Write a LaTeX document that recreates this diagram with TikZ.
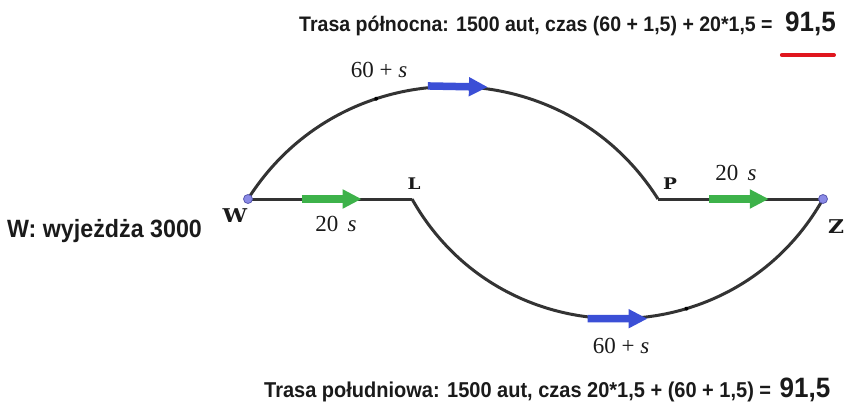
\documentclass[tikz,border=0pt]{standalone}
\usepackage{fontspec}
\usetikzlibrary{arrows.meta,positioning,calc,decorations.markings}
\newfontfamily\capsans[FakeStretch=0.93]{Liberation Sans}
\newfontfamily\numserif{Liberation Serif}
\newfontfamily\ptfont[FakeStretch=1.15]{DejaVu Serif}
\definecolor{roadc}{HTML}{333333}
\definecolor{arrblue}{HTML}{3B4FD6}
\definecolor{arrgrn}{HTML}{3DB24A}
\definecolor{ptfill}{HTML}{8A8AE6}
\definecolor{ptdraw}{HTML}{5A5AB0}
\definecolor{redmark}{HTML}{E0161E}
\definecolor{inkc}{HTML}{1A1A1A}
\tikzset{
  road/.style={draw=roadc, line width=3pt},
  fat/.style={line width=7.5pt, -{Triangle[length=19pt,width=18pt]}},
  flow/.style 2 args={postaction={decorate, decoration={markings,
      mark=at position #1 with {\draw[fat, draw=#2, fill=#2] (-30pt,0) -- (30pt,0);}}}},
  dotmark/.style={postaction={decorate, decoration={markings,
      mark=at position #1 with {\fill[black] (0,0) circle (2pt);}}}},
  ptlbl/.style={font=\ptfont\bfseries\fontsize{19}{19}\selectfont, inner sep=0pt, text=inkc},
  ptsmall/.style={ptlbl, font=\ptfont\bfseries\fontsize{16}{16}\selectfont},
  cost/.style={font=\numserif\fontsize{23}{23}\selectfont, inner sep=0pt, text=inkc},
  note/.style={font=\capsans\bfseries\fontsize{21}{21}\selectfont, inner sep=0pt, anchor=base west, text=inkc},
  total/.style={font=\capsans\bfseries\fontsize{28}{28}\selectfont, inner sep=0pt, text=inkc},
}
\begin{document}
\begin{tikzpicture}[x=1pt,y=1pt]
  \useasboundingbox (0,0) rectangle (849,-407);
  % junctions
  \coordinate (W) at (248,-199);
  \coordinate (L) at (412,-199);
  \coordinate (P) at (658,-199);
  \coordinate (Z) at (823,-199);

  % routes
  \draw[road, flow={0.51}{arrgrn}] (W) -- (L);
  \draw[road, flow={0.49}{arrgrn}] (P) -- (Z);
  \draw[road, flow={0.51}{arrblue}, dotmark=0.34] (W) to[out=57.7,in=122.3,looseness=1.11] (P);
  \draw[road, flow={0.5}{arrblue}, dotmark=0.64] (L) to[out=-60.6,in=-119.4,looseness=1.143] (Z);
  \fill[ptfill, draw=ptdraw, line width=0.8pt] (W) circle (4.5pt) (Z) circle (4.5pt);

  % point names
  \node[ptlbl] (Wn) at (235,-216) {W};
  \node[ptsmall] (Ln) at (414,-184) {L};
  \node[ptsmall] (Pn) at (670,-184) {P};
  \node[ptlbl] (Zn) at (836,-227) {Z};

  % travel times
  \node[cost] (cWP) at (379,-70) {60 + \textit{s}};
  \node[cost] (cWL) at (336,-224) {20\hspace{.4em}\textit{s}};
  \node[cost] (cPZ) at (736,-173) {20\hspace{.4em}\textit{s}};
  \node[cost] (cLZ) at (621,-346) {60 + \textit{s}};

  % notes
  \node[note, font=\capsans\bfseries\fontsize{25}{25}\selectfont] (start) at (7,-237) {W: wyjeżdża 3000};
  \node[note] (north) at (299,-31) {Trasa północna: 1500 aut, czas (60 + 1,5) + 20*1,5 =};
  \node[total, base right=12pt of north] (ntot) {91,5};
  \draw[redmark, line width=4pt, line cap=round] ($(ntot.base west)+(-3,-24)$) -- ($(ntot.base east)+(-2,-24)$);
  \node[note, font=\capsans\bfseries\fontsize{21.5}{21.5}\selectfont] (south) at (264,-397) {Trasa południowa: 1500 aut, czas 20*1,5 + (60 + 1,5) =};
  \node[total, base right=8pt of south] (stot) {91,5};
\end{tikzpicture}
\end{document}
